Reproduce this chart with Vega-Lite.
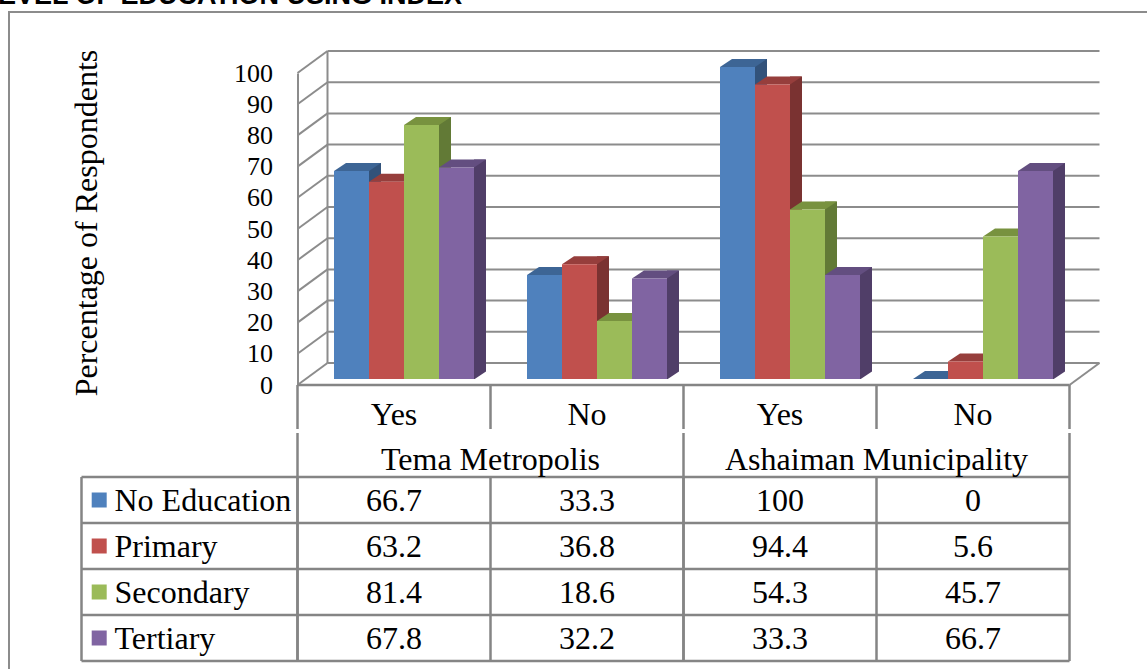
{
  "$schema": "https://vega.github.io/schema/vega-lite/v6.json",
  "width": 1141,
  "height": 660,
  "autosize": {"type": "none"},
  "padding": {"left": 9, "top": 12, "right": -3, "bottom": -3},
  "background": "white",
  "title": {
    "text": "LEVEL OF EDUCATION USING INDEX",
    "anchor": "start",
    "frame": "group",
    "align": "right",
    "baseline": "alphabetic",
    "dx": 453,
    "dy": 17,
    "offset": -2,
    "font": "Liberation Sans",
    "fontSize": 27,
    "fontWeight": "bold",
    "color": "#000000"
  },
  "config": {
    "view": {"stroke": "#8c8c8c", "strokeWidth": 2},
    "font": "Liberation Serif"
  },
  "datasets": {
    "bars": [
      {"area": "Tema Metropolis", "answer": "Yes", "col": "Tema Metropolis / Yes", "level": "No Education", "value": 66.7},
      {"area": "Tema Metropolis", "answer": "Yes", "col": "Tema Metropolis / Yes", "level": "Primary", "value": 63.2},
      {"area": "Tema Metropolis", "answer": "Yes", "col": "Tema Metropolis / Yes", "level": "Secondary", "value": 81.4},
      {"area": "Tema Metropolis", "answer": "Yes", "col": "Tema Metropolis / Yes", "level": "Tertiary", "value": 67.8},
      {"area": "Tema Metropolis", "answer": "No", "col": "Tema Metropolis / No", "level": "No Education", "value": 33.3},
      {"area": "Tema Metropolis", "answer": "No", "col": "Tema Metropolis / No", "level": "Primary", "value": 36.8},
      {"area": "Tema Metropolis", "answer": "No", "col": "Tema Metropolis / No", "level": "Secondary", "value": 18.6},
      {"area": "Tema Metropolis", "answer": "No", "col": "Tema Metropolis / No", "level": "Tertiary", "value": 32.2},
      {"area": "Ashaiman Municipality", "answer": "Yes", "col": "Ashaiman Municipality / Yes", "level": "No Education", "value": 100},
      {"area": "Ashaiman Municipality", "answer": "Yes", "col": "Ashaiman Municipality / Yes", "level": "Primary", "value": 94.4},
      {"area": "Ashaiman Municipality", "answer": "Yes", "col": "Ashaiman Municipality / Yes", "level": "Secondary", "value": 54.3},
      {"area": "Ashaiman Municipality", "answer": "Yes", "col": "Ashaiman Municipality / Yes", "level": "Tertiary", "value": 33.3},
      {"area": "Ashaiman Municipality", "answer": "No", "col": "Ashaiman Municipality / No", "level": "No Education", "value": 0},
      {"area": "Ashaiman Municipality", "answer": "No", "col": "Ashaiman Municipality / No", "level": "Primary", "value": 5.6},
      {"area": "Ashaiman Municipality", "answer": "No", "col": "Ashaiman Municipality / No", "level": "Secondary", "value": 45.7},
      {"area": "Ashaiman Municipality", "answer": "No", "col": "Ashaiman Municipality / No", "level": "Tertiary", "value": 66.7}
    ],
    "ticks": [
      {"v": 0}, {"v": 10}, {"v": 20}, {"v": 30}, {"v": 40}, {"v": 50},
      {"v": 60}, {"v": 70}, {"v": 80}, {"v": 90}, {"v": 100}
    ],
    "one": [{}]
  },
  "resolve": {"scale": {"x": "independent", "y": "independent", "color": "independent", "xOffset": "independent"}},
  "layer": [
    {
      "description": "back wall gridlines, carrying the percentage axis",
      "data": {"name": "ticks"},
      "mark": {"type": "rule", "color": "#8c8c8c", "strokeWidth": 2, "xOffset": 30, "x2Offset": 30, "yOffset": -22},
      "encoding": {
        "x": {"datum": 0, "type": "quantitative", "scale": {"domain": [-1, 0, 4], "range": [72.5, 288.5, 1060.5], "zero": false, "nice": false}, "axis": null},
        "x2": {"datum": 4},
        "y": {
          "field": "v", "type": "quantitative",
          "scale": {"domain": [0, 100], "range": [373, 61], "zero": false, "nice": false},
          "axis": {
            "orient": "left", "offset": -288.5,
            "values": [0, 10, 20, 30, 40, 50, 60, 70, 80, 90, 100],
            "domain": true, "domainColor": "#8c8c8c", "domainWidth": 2,
            "ticks": false, "grid": false, "labelOverlap": false,
            "labelFont": "Liberation Serif", "labelFontSize": 26, "labelColor": "#000000", "labelPadding": 25,
            "title": "Percentage of Respondents",
            "titleFont": "Liberation Serif", "titleFontSize": 32, "titleFontWeight": "normal", "titleColor": "#000000",
            "titleAngle": 270, "titleBaseline": "alphabetic", "titleAlign": "center",
            "titleX": -201.5, "titleY": 210.5
          }
        }
      }
    },
    {
      "description": "side wall diagonals",
      "data": {"name": "ticks"},
      "mark": {"type": "rule", "color": "#8c8c8c", "strokeWidth": 2, "x2Offset": 30, "y2Offset": -22},
      "encoding": {
        "x": {"datum": 0, "type": "quantitative", "scale": {"domain": [-1, 0, 4], "range": [72.5, 288.5, 1060.5], "zero": false, "nice": false}, "axis": null},
        "x2": {"datum": 0},
        "y": {"field": "v", "type": "quantitative", "scale": {"domain": [0, 100], "range": [373, 61], "zero": false, "nice": false}, "axis": null},
        "y2": {"field": "v"}
      }
    },
    {
      "description": "back corner edge",
      "data": {"name": "one"},
      "mark": {"type": "rule", "color": "#8c8c8c", "strokeWidth": 2, "xOffset": 30, "yOffset": -22, "y2Offset": -22},
      "encoding": {
        "x": {"datum": 0, "type": "quantitative", "scale": {"domain": [-1, 0, 4], "range": [72.5, 288.5, 1060.5], "zero": false, "nice": false}, "axis": null},
        "y": {"datum": 0, "type": "quantitative", "scale": {"domain": [0, 100], "range": [373, 61], "zero": false, "nice": false}, "axis": null},
        "y2": {"datum": 100}
      }
    },
    {
      "description": "floor right edge",
      "data": {"name": "one"},
      "mark": {"type": "rule", "color": "#8c8c8c", "strokeWidth": 2, "x2Offset": 30, "y2Offset": -22},
      "encoding": {
        "x": {"datum": 4, "type": "quantitative", "scale": {"domain": [-1, 0, 4], "range": [72.5, 288.5, 1060.5], "zero": false, "nice": false}, "axis": null},
        "x2": {"datum": 4},
        "y": {"datum": 0, "type": "quantitative", "scale": {"domain": [0, 100], "range": [373, 61], "zero": false, "nice": false}, "axis": null},
        "y2": {"datum": 0}
      }
    },
    {
      "description": "bar side faces",
      "data": {"name": "bars"},
      "mark": {"type": "bar", "yOffset": -14, "y2Offset": -6},
      "encoding": {
        "x": {"field": "col", "type": "nominal", "scale": {"type": "band", "domain": ["Tema Metropolis / Yes", "Tema Metropolis / No", "Ashaiman Municipality / Yes", "Ashaiman Municipality / No"], "range": [288.5, 1060.5], "padding": 0}, "axis": null},
        "xOffset": {"field": "level", "type": "nominal", "scale": {"type": "band", "domain": ["No Education", "Primary", "Secondary", "Tertiary"], "range": [71.5, 188.5], "paddingInner": 0.6571428571, "paddingOuter": 0}},
        "y": {"field": "value", "type": "quantitative", "scale": {"domain": [0, 100], "range": [373, 61], "zero": false, "nice": false}, "axis": null},
        "y2": {"datum": 0},
        "color": {"field": "level", "type": "nominal", "scale": {"domain": ["No Education", "Primary", "Secondary", "Tertiary"], "range": ["#32527a", "#7a3231", "#627a36", "#503e68"]}, "legend": null}
      }
    },
    {
      "description": "trim under the slanted foot of each side face",
      "data": {"name": "bars"},
      "mark": {"type": "point", "filled": true, "opacity": 1, "color": "white", "strokeWidth": 0, "size": 4, "yOffset": -6, "shape": "M17.5,0.6L31,0.6L31,-8.4Z"},
      "encoding": {
        "x": {"field": "col", "type": "nominal", "scale": {"type": "band", "domain": ["Tema Metropolis / Yes", "Tema Metropolis / No", "Ashaiman Municipality / Yes", "Ashaiman Municipality / No"], "range": [288.5, 1060.5], "padding": 0}, "axis": null},
        "xOffset": {"field": "level", "type": "nominal", "scale": {"type": "band", "domain": ["No Education", "Primary", "Secondary", "Tertiary"], "range": [36.5, 176.5], "padding": 0}},
        "y": {"datum": 0, "type": "quantitative", "scale": {"domain": [0, 100], "range": [373, 61], "zero": false, "nice": false}, "axis": null}
      }
    },
    {
      "description": "bar top faces",
      "data": {"name": "bars"},
      "mark": {"type": "point", "filled": true, "opacity": 1, "strokeWidth": 0, "size": 4, "yOffset": -6, "shape": "M-17.5,0L-5.5,-8L29.5,-8L17.5,0Z"},
      "encoding": {
        "x": {"field": "col", "type": "nominal", "scale": {"type": "band", "domain": ["Tema Metropolis / Yes", "Tema Metropolis / No", "Ashaiman Municipality / Yes", "Ashaiman Municipality / No"], "range": [288.5, 1060.5], "padding": 0}, "axis": null},
        "xOffset": {"field": "level", "type": "nominal", "scale": {"type": "band", "domain": ["No Education", "Primary", "Secondary", "Tertiary"], "range": [36.5, 176.5], "padding": 0}},
        "y": {"field": "value", "type": "quantitative", "scale": {"domain": [0, 100], "range": [373, 61], "zero": false, "nice": false}, "axis": null},
        "color": {"field": "level", "type": "nominal", "scale": {"domain": ["No Education", "Primary", "Secondary", "Tertiary"], "range": ["#3d6595", "#963e3c", "#78923f", "#634e80"]}, "legend": null}
      }
    },
    {
      "description": "bar front faces",
      "data": {"name": "bars"},
      "mark": {"type": "bar", "yOffset": -6, "y2Offset": -6},
      "encoding": {
        "x": {"field": "col", "type": "nominal", "scale": {"type": "band", "domain": ["Tema Metropolis / Yes", "Tema Metropolis / No", "Ashaiman Municipality / Yes", "Ashaiman Municipality / No"], "range": [288.5, 1060.5], "padding": 0}, "axis": null},
        "xOffset": {"field": "level", "type": "nominal", "scale": {"type": "band", "domain": ["No Education", "Primary", "Secondary", "Tertiary"], "range": [36.5, 176.5], "padding": 0}},
        "y": {"field": "value", "type": "quantitative", "scale": {"domain": [0, 100], "range": [373, 61], "zero": false, "nice": false}, "axis": null},
        "y2": {"datum": 0},
        "color": {"field": "level", "type": "nominal", "scale": {"domain": ["No Education", "Primary", "Secondary", "Tertiary"], "range": ["#4f81bd", "#c0504d", "#9bbb59", "#8064a2"]}, "legend": null}
      }
    },
    {
      "description": "table: top edge under the floor",
      "data": {"name": "one"},
      "mark": {"type": "rule", "color": "#858585", "strokeWidth": 2.5},
      "encoding": {
        "x": {"datum": 0, "type": "quantitative", "scale": {"domain": [-1, 0, 4], "range": [72.5, 288.5, 1060.5], "zero": false, "nice": false}, "axis": null},
        "x2": {"datum": 4},
        "y": {"datum": 0, "type": "quantitative", "scale": {"domain": [0, 6], "range": [373, 649], "zero": false, "nice": false}, "axis": null}
      }
    },
    {
      "description": "table: category row separators",
      "data": {"name": "bars"},
      "transform": [{"filter": "datum.level === 'No Education'"}],
      "mark": {"type": "rule", "color": "#858585", "strokeWidth": 2.5, "y2Offset": -2},
      "encoding": {
        "x": {"field": "col", "type": "nominal", "bandPosition": 0, "scale": {"type": "band", "domain": ["Tema Metropolis / Yes", "Tema Metropolis / No", "Ashaiman Municipality / Yes", "Ashaiman Municipality / No"], "range": [288.5, 1060.5], "padding": 0}, "axis": null},
        "y": {"datum": 0, "type": "quantitative", "scale": {"domain": [0, 6], "range": [373, 649], "zero": false, "nice": false}, "axis": null},
        "y2": {"datum": 1}
      }
    },
    {
      "description": "table: category row right edge",
      "data": {"name": "one"},
      "mark": {"type": "rule", "color": "#858585", "strokeWidth": 2.5, "y2Offset": -2},
      "encoding": {
        "x": {"datum": 4, "type": "quantitative", "scale": {"domain": [-1, 0, 4], "range": [72.5, 288.5, 1060.5], "zero": false, "nice": false}, "axis": null},
        "y": {"datum": 0, "type": "quantitative", "scale": {"domain": [0, 6], "range": [373, 649], "zero": false, "nice": false}, "axis": null},
        "y2": {"datum": 1}
      }
    },
    {
      "description": "table: area separators down to the bottom",
      "data": {"name": "bars"},
      "transform": [{"filter": "datum.level === 'No Education' && datum.answer === 'Yes'"}],
      "mark": {"type": "rule", "color": "#858585", "strokeWidth": 2.5, "yOffset": 2},
      "encoding": {
        "x": {"field": "area", "type": "nominal", "bandPosition": 0, "scale": {"type": "band", "domain": ["Tema Metropolis", "Ashaiman Municipality"], "range": [288.5, 1060.5], "padding": 0}, "axis": null},
        "y": {"datum": 1, "type": "quantitative", "scale": {"domain": [0, 6], "range": [373, 649], "zero": false, "nice": false}, "axis": null},
        "y2": {"datum": 6}
      }
    },
    {
      "description": "table: right edge below the category row",
      "data": {"name": "one"},
      "mark": {"type": "rule", "color": "#858585", "strokeWidth": 2.5, "yOffset": 2},
      "encoding": {
        "x": {"datum": 4, "type": "quantitative", "scale": {"domain": [-1, 0, 4], "range": [72.5, 288.5, 1060.5], "zero": false, "nice": false}, "axis": null},
        "y": {"datum": 1, "type": "quantitative", "scale": {"domain": [0, 6], "range": [373, 649], "zero": false, "nice": false}, "axis": null},
        "y2": {"datum": 6}
      }
    },
    {
      "description": "table: column separators in the value rows",
      "data": {"name": "bars"},
      "transform": [{"filter": "datum.level === 'No Education'"}],
      "mark": {"type": "rule", "color": "#858585", "strokeWidth": 2.5},
      "encoding": {
        "x": {"field": "col", "type": "nominal", "bandPosition": 0, "scale": {"type": "band", "domain": ["Tema Metropolis / Yes", "Tema Metropolis / No", "Ashaiman Municipality / Yes", "Ashaiman Municipality / No"], "range": [288.5, 1060.5], "padding": 0}, "axis": null},
        "y": {"datum": 2, "type": "quantitative", "scale": {"domain": [0, 6], "range": [373, 649], "zero": false, "nice": false}, "axis": null},
        "y2": {"datum": 6}
      }
    },
    {
      "description": "table: left edge of the series column",
      "data": {"name": "one"},
      "mark": {"type": "rule", "color": "#858585", "strokeWidth": 2.5},
      "encoding": {
        "x": {"datum": -1, "type": "quantitative", "scale": {"domain": [-1, 0, 4], "range": [72.5, 288.5, 1060.5], "zero": false, "nice": false}, "axis": null},
        "y": {"datum": 2, "type": "quantitative", "scale": {"domain": [0, 6], "range": [373, 649], "zero": false, "nice": false}, "axis": null},
        "y2": {"datum": 6}
      }
    },
    {
      "description": "table: row separators above each series",
      "data": {"name": "bars"},
      "transform": [{"filter": "datum.col === 'Tema Metropolis / Yes'"}],
      "mark": {"type": "rule", "color": "#858585", "strokeWidth": 2.5},
      "encoding": {
        "x": {"datum": -1, "type": "quantitative", "scale": {"domain": [-1, 0, 4], "range": [72.5, 288.5, 1060.5], "zero": false, "nice": false}, "axis": null},
        "x2": {"datum": 4},
        "y": {"field": "level", "type": "nominal", "bandPosition": 0, "scale": {"type": "band", "domain": ["No Education", "Primary", "Secondary", "Tertiary"], "range": [465, 649], "padding": 0}, "axis": null}
      }
    },
    {
      "description": "table: bottom edge",
      "data": {"name": "one"},
      "mark": {"type": "rule", "color": "#858585", "strokeWidth": 2.5},
      "encoding": {
        "x": {"datum": -1, "type": "quantitative", "scale": {"domain": [-1, 0, 4], "range": [72.5, 288.5, 1060.5], "zero": false, "nice": false}, "axis": null},
        "x2": {"datum": 4},
        "y": {"datum": 6, "type": "quantitative", "scale": {"domain": [0, 6], "range": [373, 649], "zero": false, "nice": false}, "axis": null}
      }
    },
    {
      "description": "table: Yes / No labels",
      "data": {"name": "bars"},
      "transform": [{"filter": "datum.level === 'No Education'"}],
      "mark": {"type": "text", "font": "Liberation Serif", "fontSize": 32, "color": "#000000", "align": "center", "baseline": "alphabetic", "dy": 16.5},
      "encoding": {
        "x": {"field": "col", "type": "nominal", "scale": {"type": "band", "domain": ["Tema Metropolis / Yes", "Tema Metropolis / No", "Ashaiman Municipality / Yes", "Ashaiman Municipality / No"], "range": [288.5, 1060.5], "padding": 0}, "axis": null},
        "y": {"datum": 0.5, "type": "quantitative", "scale": {"domain": [0, 6], "range": [373, 649], "zero": false, "nice": false}, "axis": null},
        "text": {"field": "answer", "type": "nominal"}
      }
    },
    {
      "description": "table: area labels",
      "data": {"name": "bars"},
      "transform": [{"filter": "datum.level === 'No Education' && datum.answer === 'Yes'"}],
      "mark": {"type": "text", "font": "Liberation Serif", "fontSize": 32, "color": "#000000", "align": "center", "baseline": "alphabetic", "dy": 15.5},
      "encoding": {
        "x": {"field": "area", "type": "nominal", "scale": {"type": "band", "domain": ["Tema Metropolis", "Ashaiman Municipality"], "range": [288.5, 1060.5], "padding": 0}, "axis": null},
        "y": {"datum": 1.5, "type": "quantitative", "scale": {"domain": [0, 6], "range": [373, 649], "zero": false, "nice": false}, "axis": null},
        "text": {"field": "area", "type": "nominal"}
      }
    },
    {
      "description": "table: percentages",
      "data": {"name": "bars"},
      "mark": {"type": "text", "font": "Liberation Serif", "fontSize": 32, "color": "#000000", "align": "center", "baseline": "alphabetic", "dy": 11},
      "encoding": {
        "x": {"field": "col", "type": "nominal", "scale": {"type": "band", "domain": ["Tema Metropolis / Yes", "Tema Metropolis / No", "Ashaiman Municipality / Yes", "Ashaiman Municipality / No"], "range": [288.5, 1060.5], "padding": 0}, "axis": null},
        "y": {"field": "level", "type": "nominal", "scale": {"type": "band", "domain": ["No Education", "Primary", "Secondary", "Tertiary"], "range": [465, 649], "padding": 0}, "axis": null},
        "text": {"field": "value", "type": "nominal"}
      }
    },
    {
      "description": "table: series names",
      "data": {"name": "bars"},
      "transform": [{"filter": "datum.col === 'Tema Metropolis / Yes'"}],
      "mark": {"type": "text", "font": "Liberation Serif", "fontSize": 32, "color": "#000000", "align": "left", "baseline": "alphabetic", "dx": 33, "dy": 11},
      "encoding": {
        "x": {"datum": -1, "type": "quantitative", "scale": {"domain": [-1, 0, 4], "range": [72.5, 288.5, 1060.5], "zero": false, "nice": false}, "axis": null},
        "y": {"field": "level", "type": "nominal", "scale": {"type": "band", "domain": ["No Education", "Primary", "Secondary", "Tertiary"], "range": [465, 649], "padding": 0}, "axis": null},
        "text": {"field": "level", "type": "nominal"}
      }
    },
    {
      "description": "table: series colour keys",
      "data": {"name": "bars"},
      "transform": [{"filter": "datum.col === 'Tema Metropolis / Yes'"}],
      "mark": {"type": "point", "shape": "square", "filled": true, "opacity": 1, "size": 225, "strokeWidth": 0, "xOffset": 17.7},
      "encoding": {
        "x": {"datum": -1, "type": "quantitative", "scale": {"domain": [-1, 0, 4], "range": [72.5, 288.5, 1060.5], "zero": false, "nice": false}, "axis": null},
        "y": {"field": "level", "type": "nominal", "scale": {"type": "band", "domain": ["No Education", "Primary", "Secondary", "Tertiary"], "range": [465, 649], "padding": 0}, "axis": null},
        "color": {"field": "level", "type": "nominal", "scale": {"domain": ["No Education", "Primary", "Secondary", "Tertiary"], "range": ["#4f81bd", "#c0504d", "#9bbb59", "#8064a2"]}, "legend": null}
      }
    }
  ]
}
